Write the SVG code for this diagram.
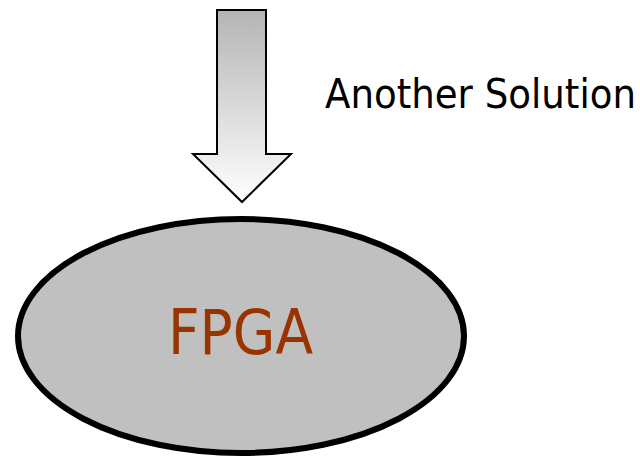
<svg xmlns="http://www.w3.org/2000/svg" width="640" height="460" viewBox="0 0 640 460">
  <defs>
    <linearGradient id="shaftFill" x1="0" y1="0" x2="0" y2="1">
      <stop offset="0" stop-color="#b4b4b4"/>
      <stop offset="1" stop-color="#ffffff"/>
    </linearGradient>
  </defs>
  <style>
    .label { font-family: "DejaVu Sans", "Liberation Sans", sans-serif; }
  </style>
  <rect width="640" height="460" fill="#ffffff"/>
  <g id="connectors">
    <path d="M217 10 H266 V154 H291 L242 202 L193 154 H217 Z" fill="url(#shaftFill)" stroke="#000" stroke-width="2" stroke-linejoin="miter"/>
    <text class="label" x="325" y="108" font-size="40" textLength="311" lengthAdjust="spacingAndGlyphs" fill="#000">Another Solution</text>
  </g>
  <g id="fpga">
    <ellipse cx="241" cy="336" rx="223" ry="117" fill="#c0c0c0" stroke="#000" stroke-width="6"/>
    <text class="label" x="168" y="354" font-size="63" textLength="145" lengthAdjust="spacingAndGlyphs" fill="#993300">FPGA</text>
  </g>
</svg>
